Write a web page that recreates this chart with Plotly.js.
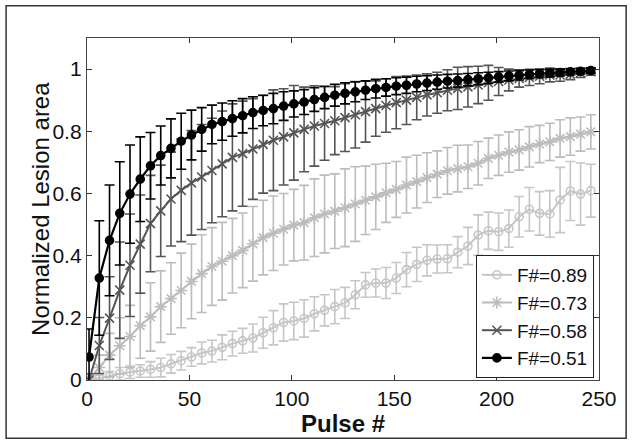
<!DOCTYPE html>
<html>
<head>
<meta charset="utf-8">
<script src="https://cdn.plot.ly/plotly-3.0.1.min.js"></script>
<style>
  html, body { margin: 0; padding: 0; background: #fff; }
  #graph { width: 632px; height: 444px; }
</style>
</head>
<body>
<div id="graph"></div>
<script>
// pulse numbers (every 5th pulse)
const pulses = [1, 6, 11, 16, 21, 26, 31, 36, 41, 46,
    51, 56, 61, 66, 71, 76, 81, 86, 91, 96,
    101, 106, 111, 116, 121, 126, 131, 136, 141, 146,
    151, 156, 161, 166, 171, 176, 181, 186, 191, 196,
    201, 206, 211, 216, 221, 226, 231, 236, 241, 246];

const seriesNames = ['F#=0.89', 'F#=0.73', 'F#=0.58', 'F#=0.51'];

// F#=0.89
const f089 = [0.004, 0.006, 0.012, 0.020, 0.025, 0.029, 0.034, 0.040, 0.052, 0.062,
    0.074, 0.087, 0.093, 0.105, 0.117, 0.126, 0.135, 0.152, 0.168, 0.185,
    0.190, 0.198, 0.213, 0.224, 0.236, 0.248, 0.274, 0.306, 0.312, 0.312,
    0.328, 0.355, 0.372, 0.385, 0.389, 0.390, 0.411, 0.431, 0.466, 0.480,
    0.477, 0.487, 0.525, 0.549, 0.536, 0.534, 0.579, 0.608, 0.598, 0.609];
const f089Err = [0.005, 0.010, 0.015, 0.020, 0.020, 0.020, 0.025, 0.030, 0.030, 0.030,
    0.030, 0.035, 0.035, 0.040, 0.040, 0.040, 0.045, 0.050, 0.055, 0.060,
    0.060, 0.060, 0.055, 0.050, 0.055, 0.050, 0.045, 0.040, 0.045, 0.050,
    0.050, 0.055, 0.055, 0.050, 0.045, 0.045, 0.050, 0.060, 0.065, 0.060,
    0.060, 0.060, 0.065, 0.070, 0.070, 0.075, 0.105, 0.095, 0.100, 0.085];

// F#=0.73
const f073 = [0.000, 0.040, 0.080, 0.110, 0.140, 0.175, 0.203, 0.236, 0.262, 0.288,
    0.317, 0.342, 0.365, 0.382, 0.400, 0.417, 0.438, 0.458, 0.472, 0.485,
    0.498, 0.506, 0.522, 0.534, 0.543, 0.554, 0.566, 0.578, 0.589, 0.602,
    0.613, 0.627, 0.638, 0.651, 0.662, 0.673, 0.680, 0.686, 0.697, 0.713,
    0.723, 0.733, 0.740, 0.750, 0.759, 0.766, 0.777, 0.783, 0.791, 0.798];
const f073Err = [0.010, 0.040, 0.070, 0.090, 0.100, 0.105, 0.110, 0.115, 0.115, 0.120,
    0.120, 0.125, 0.125, 0.125, 0.120, 0.120, 0.120, 0.120, 0.120, 0.115,
    0.115, 0.120, 0.125, 0.125, 0.120, 0.125, 0.120, 0.110, 0.105, 0.095,
    0.090, 0.090, 0.085, 0.080, 0.075, 0.075, 0.075, 0.070, 0.070, 0.065,
    0.065, 0.065, 0.065, 0.065, 0.060, 0.060, 0.060, 0.060, 0.055, 0.055];

// F#=0.58
const f058 = [0.000, 0.111, 0.199, 0.289, 0.369, 0.437, 0.503, 0.544, 0.582, 0.610,
    0.634, 0.653, 0.674, 0.695, 0.716, 0.728, 0.743, 0.758, 0.771, 0.782,
    0.795, 0.806, 0.817, 0.825, 0.834, 0.844, 0.853, 0.863, 0.873, 0.883,
    0.892, 0.900, 0.909, 0.917, 0.924, 0.932, 0.938, 0.943, 0.949, 0.956,
    0.960, 0.965, 0.970, 0.973, 0.977, 0.981, 0.981, 0.984, 0.988, 0.992];
const f058Err = [0.020, 0.090, 0.133, 0.155, 0.165, 0.158, 0.155, 0.147, 0.151, 0.165,
    0.168, 0.169, 0.168, 0.170, 0.172, 0.169, 0.162, 0.157, 0.162, 0.155,
    0.152, 0.136, 0.129, 0.118, 0.109, 0.109, 0.107, 0.098, 0.089, 0.086,
    0.084, 0.078, 0.072, 0.068, 0.066, 0.066, 0.068, 0.065, 0.060, 0.056,
    0.045, 0.035, 0.028, 0.026, 0.024, 0.022, 0.020, 0.018, 0.015, 0.012];

// F#=0.51
const f051 = [0.074, 0.328, 0.449, 0.536, 0.598, 0.646, 0.689, 0.722, 0.745, 0.768,
    0.788, 0.806, 0.822, 0.831, 0.841, 0.850, 0.860, 0.867, 0.873, 0.881,
    0.888, 0.894, 0.902, 0.909, 0.916, 0.922, 0.927, 0.932, 0.937, 0.941,
    0.945, 0.948, 0.952, 0.955, 0.958, 0.961, 0.963, 0.966, 0.969, 0.972,
    0.975, 0.978, 0.980, 0.983, 0.985, 0.987, 0.989, 0.991, 0.993, 0.995];
const f051Err = [0.090, 0.184, 0.178, 0.166, 0.158, 0.136, 0.107, 0.095, 0.095, 0.090,
    0.080, 0.070, 0.062, 0.060, 0.057, 0.055, 0.051, 0.049, 0.049, 0.046,
    0.042, 0.040, 0.038, 0.036, 0.035, 0.034, 0.032, 0.030, 0.030, 0.028,
    0.027, 0.026, 0.025, 0.024, 0.023, 0.022, 0.021, 0.020, 0.019, 0.018,
    0.017, 0.016, 0.015, 0.014, 0.013, 0.012, 0.011, 0.010, 0.009, 0.008];

function series(name, y, err, color, symbol, size, lw) {
    return {
        x: pulses, y: y,
        name: name,
        mode: 'lines+markers', type: 'scatter',
        line: { color: color, width: lw },
        marker: { symbol: symbol, size: size, color: color, line: { color: color, width: 1.6 } },
        error_y: { type: 'data', array: err, visible: true, color: color, thickness: 1.6, width: 5 }
    };
}

const data = [
    series(seriesNames[0], f089, f089Err, '#c6c6c6', 'circle-open', 8, 2),
    series(seriesNames[1], f073, f073Err, '#bcbcbc', 'asterisk-open', 10, 2),
    series(seriesNames[2], f058, f058Err, '#555555', 'x-thin-open', 9, 2),
    series(seriesNames[3], f051, f051Err, '#000000', 'circle', 8, 2.2)
];

const font = 'Arial, Liberation Sans, sans-serif';
const axisFont = { family: font, size: 21, color: '#111' };

Plotly.newPlot('graph', data, {
    width: 632, height: 444,
    margin: { l: 87, r: 33, t: 38, b: 64 },
    paper_bgcolor: '#fff',
    plot_bgcolor: '#fff',
    showlegend: true,
    legend: {
        x: 0.99, y: 0.006, xanchor: 'right', yanchor: 'bottom',
        bgcolor: '#fff', bordercolor: '#222', borderwidth: 1,
        font: { family: font, size: 19, color: '#111' },
        tracegroupgap: 0
    },
    xaxis: {
        range: [0, 250], tickvals: [0, 50, 100, 150, 200, 250],
        ticks: 'inside', ticklen: 5, tickcolor: '#333',
        showline: true, linecolor: '#444', linewidth: 1.2, mirror: 'ticks',
        showgrid: false, zeroline: false,
        tickfont: axisFont,
        title: { text: '<b>Pulse #</b>', font: { family: font, size: 24, color: '#111' }, standoff: 2 }
    },
    yaxis: {
        range: [0, 1.1], tickvals: [0, 0.2, 0.4, 0.6, 0.8, 1],
        ticks: 'inside', ticklen: 5, tickcolor: '#333',
        showline: true, linecolor: '#444', linewidth: 1.2, mirror: 'ticks',
        showgrid: false, zeroline: false,
        tickfont: axisFont
    },
    annotations: [{
        text: 'Normalized Lesion area', textangle: -90,
        xref: 'paper', yref: 'paper', x: -0.092, y: 0.5,
        xanchor: 'center', yanchor: 'middle', showarrow: false,
        font: { family: font, size: 24, color: '#111' }
    }],
    shapes: [{
        type: 'rect', xref: 'paper', yref: 'paper',
        x0: -0.158, x1: 1.053, y0: -0.170, y1: 1.094,
        line: { color: '#333', width: 1.5 }
    }]
}, { displayModeBar: false, staticPlot: true });
</script>
</body>
</html>
